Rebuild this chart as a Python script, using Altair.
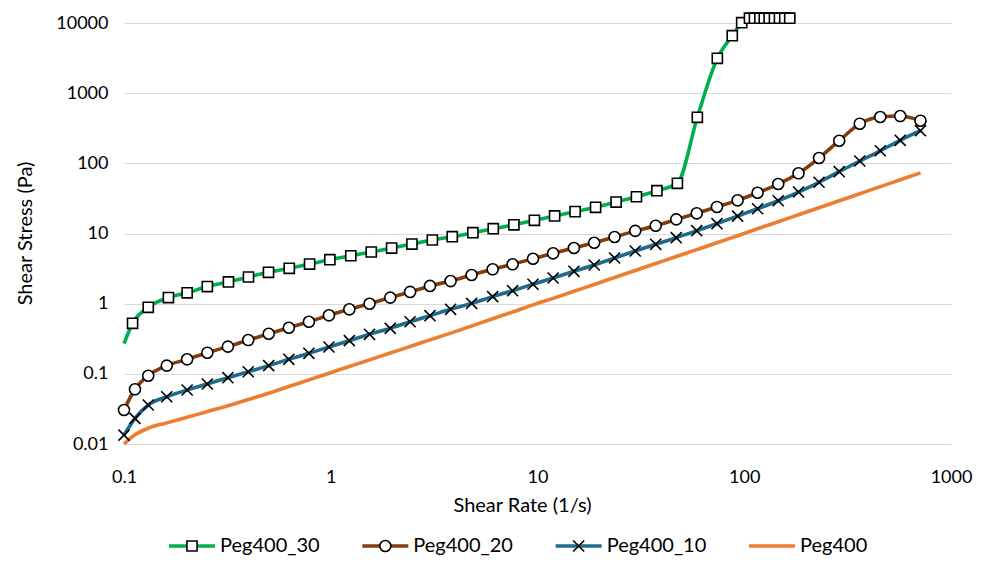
import altair as alt
import pandas as pd

SERIES = ["Peg400_30", "Peg400_20", "Peg400_10", "Peg400"]
COLORS = ["#00B050", "#843C0C", "#1F6B8C", "#ED7D31"]
# marker outlines as unit-scaled SVG paths (scaled by the symbol size)
MARKERS = [
    "M-0.22,-0.22L0.22,-0.22L0.22,0.22L-0.22,0.22Z",
    "M-0.24,0A0.24,0.24,0,1,1,0.24,0A0.24,0.24,0,1,1,-0.24,0Z",
    "M-0.24,-0.24L0.24,0.24M-0.24,0.24L0.24,-0.24",
    "M0,0",
]
HAS_MARKER = [True, True, True, False]

X_TICKS = [0.1, 1, 10, 100, 1000]
Y_TICKS = [0.01, 0.1, 1, 10, 100, 1000, 10000]

# shear rate grid shared by Peg400_20, Peg400_10, Peg400
X_GRID = [0.1, 0.113, 0.131, 0.161, 0.202, 0.253, 0.318, 0.399, 0.501, 0.627,
          0.784, 0.98, 1.23, 1.54, 1.94, 2.42, 3.02, 3.80, 4.80, 6.07,
          7.58, 9.51, 11.9, 15.0, 18.8, 23.6, 29.7, 37.3, 46.9, 58.9,
          73.8, 92.9, 116, 146, 183, 230, 288, 362, 455, 568, 712]

X_PEG30 = [0.1, 0.11, 0.131, 0.164, 0.202, 0.253, 0.32, 0.40, 0.50, 0.63,
           0.79, 0.99, 1.25, 1.57, 1.97, 2.47, 3.10, 3.87, 4.87, 6.11,
           7.69, 9.66, 12.1, 15.2, 19.1, 24.0, 30.1, 37.8, 47.5, 59.3,
           74.1, 87.5, 97.2, 106, 112, 119, 125, 132, 140, 148, 157, 166]
Y_PEG30 = [0.27, 0.525, 0.887, 1.22, 1.43, 1.75, 2.04, 2.40, 2.80, 3.19,
           3.67, 4.23, 4.82, 5.45, 6.21, 7.08, 8.08, 9.0, 10.26, 11.7,
           13.3, 15.4, 17.8, 20.5, 23.6, 28.1, 33.4, 40.7, 51.9, 453,
           3140, 6590, 10090, 11700, 11700, 11700, 11700, 11700, 11700, 11700, 11700, 11700]

Y_PEG20 = [0.0305, 0.0602, 0.094, 0.131, 0.161, 0.200, 0.244, 0.303, 0.373, 0.454,
           0.553, 0.682, 0.831, 0.998, 1.22, 1.47, 1.79, 2.10, 2.56, 3.09,
           3.64, 4.37, 5.22, 6.21, 7.39, 8.91, 10.9, 12.9, 15.9, 19.4,
           23.9, 29.7, 38.1, 50.7, 72.1, 119, 210, 367, 457, 472, 405]

Y_PEG10 = [0.0134, 0.0232, 0.0360, 0.0472, 0.0588, 0.0716, 0.0881, 0.107, 0.131, 0.161,
           0.196, 0.241, 0.297, 0.366, 0.445, 0.553, 0.674, 0.831, 1.01, 1.26,
           1.53, 1.89, 2.32, 2.89, 3.56, 4.48, 5.63, 7.01, 8.71, 10.96,
           13.8, 17.7, 22.5, 29.3, 39.0, 53.7, 76.0, 108, 151, 213, 292]

Y_PEG400 = [0.0100, 0.0135, 0.0168, 0.0200, 0.0240, 0.0290, 0.035, 0.043, 0.053, 0.066,
            0.082, 0.102, 0.127, 0.158, 0.198, 0.245, 0.305, 0.38, 0.48, 0.61,
            0.76, 0.96, 1.19, 1.50, 1.88, 2.36, 2.97, 3.73, 4.69, 5.9,
            7.4, 9.3, 11.7, 14.7, 18.5, 23.3, 29.3, 36.9, 46.5, 58.3, 73.2]

rows = []
def add(name, xs, ys, marker_from=0, markers=True):
    for i, (x, y) in enumerate(zip(xs, ys)):
        rows.append({"series": name, "x": x, "y": y, "order": i,
                     "marker": bool(markers and i >= marker_from)})

add("Peg400_30", X_PEG30, Y_PEG30, marker_from=1)
add("Peg400_20", X_GRID, Y_PEG20)
add("Peg400_10", X_GRID, Y_PEG10)
add("Peg400", X_GRID, Y_PEG400, markers=False)
df = pd.DataFrame(rows)

legend_df = pd.DataFrame({"series": SERIES, "marker": HAS_MARKER})

FONT = "Lato"
SYM = 2116  # symbol size: 46 px legend line; markers scaled inside the unit paths

color_scale = alt.Scale(domain=SERIES, range=COLORS)
shape_scale = alt.Scale(domain=SERIES, range=MARKERS)

x_enc = alt.X("x:Q",
              scale=alt.Scale(type="log", domain=[0.1, 1000], nice=False),
              axis=alt.Axis(values=X_TICKS, format="~g", title="Shear Rate (1/s)",
                            grid=False, domain=False, ticks=False, labelPadding=24,
                            labelFlush=False,
                            titleX=398, titleY=61, titleBaseline="middle",
                            titleAlign="center"))
y_enc = alt.Y("y:Q",
              scale=alt.Scale(type="log", domain=[0.01, 10000], nice=False),
              axis=alt.Axis(values=Y_TICKS, format="~g", title="Shear Stress (Pa)",
                            grid=True, gridColor="#D9D9D9", gridWidth=1,
                            domain=False, ticks=False, labelPadding=16,
                            labelFlush=False,
                            titleX=-99, titleY=210, titleBaseline="middle",
                            titleAlign="center"))

lines = alt.Chart(df).mark_line(interpolate="monotone", strokeWidth=3.6).encode(
    x=x_enc, y=y_enc,
    color=alt.Color("series:N", sort=SERIES, scale=color_scale, legend=None),
    order="order:Q",
)

points = alt.Chart(df).transform_filter("datum.marker").mark_point(
    fill="white", fillOpacity=1, stroke="black", strokeWidth=1.6, opacity=1, size=SYM
).encode(
    x=x_enc, y=y_enc,
    shape=alt.Shape("series:N", sort=SERIES, scale=shape_scale, legend=None),
)

data_layer = alt.layer(lines, points)

# legend row: items evenly spaced along a point scale below the plot
lx = alt.X("series:N", sort=SERIES, axis=None,
           scale=alt.Scale(domain=SERIES, range=[68, 648], padding=0))
ly = alt.value(523)

leg_lines = alt.Chart(legend_df).mark_point(
    shape="stroke", size=SYM, strokeWidth=3.6, opacity=1, filled=False
).encode(x=lx, y=ly, stroke=alt.Stroke("series:N", sort=SERIES, scale=color_scale, legend=None))

leg_marks = alt.Chart(legend_df).transform_filter("datum.marker").mark_point(
    fill="white", fillOpacity=1, stroke="black", strokeWidth=1.6, opacity=1, size=SYM
).encode(x=lx, y=ly, shape=alt.Shape("series:N", sort=SERIES, scale=shape_scale, legend=None))

leg_text = alt.Chart(legend_df).mark_text(
    align="left", baseline="middle", dx=28, font=FONT, fontSize=20, color="#000000"
).encode(x=lx, y=ly, text="series:N")

legend_layer = alt.layer(leg_lines, leg_marks, leg_text)

chart = alt.layer(data_layer, legend_layer).resolve_scale(
    x="independent", y="independent"
).properties(
    width=827, height=421,
    autosize=alt.AutoSizeParams(type="none"),
    padding={"left": 116, "top": 15, "right": 30, "bottom": 113},
).configure_view(stroke=None).configure_axis(
    labelFont=FONT, labelFontSize=18, labelColor="#000000",
    titleFont=FONT, titleFontSize=20, titleColor="#000000", titleFontWeight="normal",
)

chart.save("out.html", embed_options={"renderer": "svg", "actions": False})
